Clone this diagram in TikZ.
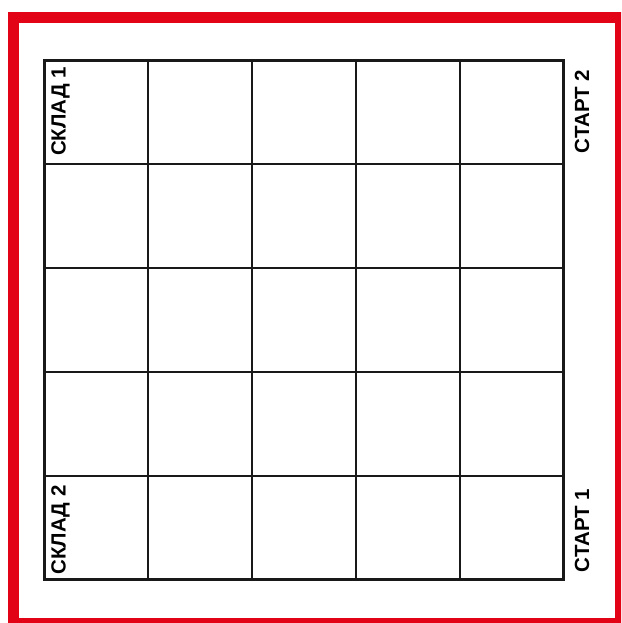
\documentclass[tikz,border=0pt]{standalone}
\usepackage{fontspec}
\setmainfont{Liberation Sans}
\definecolor{framered}{RGB}{226,4,22}
\definecolor{gridline}{RGB}{25,25,25}
\begin{document}
\begin{tikzpicture}[x=1pt,y=-1pt,
  lbl/.style={rotate=90,inner sep=0pt,font=\fontsize{20.5}{20.5}\selectfont\bfseries},
  cell/.style={draw=gridline,line width=1.8pt},
  outer/.style={draw=gridline,line width=3pt}]
\useasboundingbox (0,0) rectangle (621,623);
\clip (0,0) rectangle (621,623);
\fill[white] (0,0) rectangle (621,623);
\draw[framered,line width=11pt] (13.5,17.5) rectangle (620,623);
% grid
\foreach \i in {1,...,4} {
  \draw[cell] ({44.5+103.8*\i},60.5) -- ({44.5+103.8*\i},579.5);
  \draw[cell] (44.5,{60.5+103.8*\i}) -- (563.5,{60.5+103.8*\i});
}
\draw[outer] (44.5,60.5) rectangle (563.5,579.5);
% labels
\node[lbl] (sklad1) at (60.5,111.5) {СКЛАД 1};
\node[lbl] (sklad2) at (60.5,530) {СКЛАД 2};
\node[lbl] (start2) at (582,111.5) {СТАРТ 2};
\node[lbl] (start1) at (582,530.5) {СТАРТ 1};
\end{tikzpicture}
\end{document}
